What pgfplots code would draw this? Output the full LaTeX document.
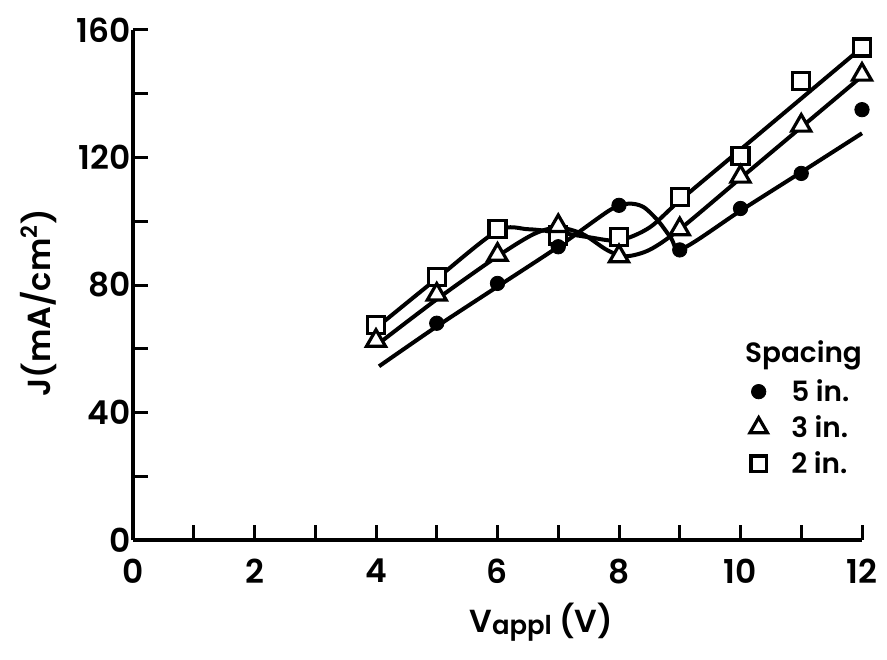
\documentclass[border=0pt]{standalone}
\usepackage{fontspec}
\setmainfont{Poppins}[UprightFont=* SemiBold, BoldFont=* Bold]
\usepackage{pgfplots}
\usepackage{pgfplotstable}
\pgfplotsset{compat=1.18}

\pgfplotstableread{
x y
5 68
6 80.5
7 92
8 105
9 91
10 104
11 115
12 135
}\fivein
\pgfplotstableread{
x y
4 62.5
5 77
6 89.5
7 98.5
8 89
9 97.5
10 114
11 130
12 146
}\threein
\pgfplotstableread{
x y
4 67.5
5 82.5
6 97.5
7 95.5
8 95
9 107.5
10 120.5
11 144
12 154.5
}\twoin

\begin{document}
\begin{tikzpicture}
\path[use as bounding box] (-66.5bp,-60bp) rectangle (377bp,270bp);
\begin{axis}[
  at={(0,0)}, anchor=south west,
  scale only axis, width=364.5bp, height=255bp,
  xmin=0, xmax=12, ymin=0, ymax=160,
  axis x line=bottom, axis y line=left,
  axis line style={-, line width=2bp, black},
  clip=false,
  tick align=inside, major tick length=7.5bp,
  tick style={line width=1.5bp, black},
  xtick={0,1,...,12}, xticklabels={0,,2,,4,,6,,8,,10,,12},
  ytick={0,20,...,160}, yticklabels={0,,40,,80,,120,,160},
  ticklabel style={font=\fontsize{16.5}{17}\selectfont},
  xticklabel style={yshift=-6bp},
  yticklabel style={inner sep=0pt, xshift=-1bp},
  xlabel={V{\fontsize{13}{13}\selectfont\raisebox{-1bp}{appl}}\ (V)},
  ylabel={J(mA/cm\textsuperscript{2})},
  label style={font=\fontsize{16}{17}\selectfont},
  xlabel style={at={(axis description cs:0.560,-0.161)}, anchor=center},
  ylabel style={at={(axis description cs:-0.130,0.465)}, anchor=center},
  legend cell align=left,
  legend style={draw=none, fill=none, font=\fontsize{14}{14}\selectfont,
    at={(axis cs:10.15,49.8)}, anchor=north west, inner sep=0pt,
    row sep=8bp,
    nodes={inner sep=0pt, text height=10bp, text depth=0pt}},
]
% fitted curves
\addplot[smooth, line width=2bp, black, forget plot] coordinates {
 (4.05,54.5) (5,67) (6,79.5) (7,92) (7.85,103.5) (8.15,105.5) (8.4,104.5)
 (8.65,100) (8.85,95) (9.05,91.5) (10,103.3) (11,115.4) (12,127.6)};
\addplot[smooth, line width=2bp, black, forget plot] coordinates {
 (4,61) (5,75.5) (6,89) (6.6,96) (7,98) (7.4,96) (7.8,91) (8.1,89)
 (8.5,91) (9,97.5) (10,113.5) (11,129.5) (12,145.5)};
\addplot[smooth, line width=2bp, black, forget plot] coordinates {
 (4,66.5) (5,82) (6,97) (6.5,97.5) (7,96.5) (7.5,95) (8,94) (8.5,98)
 (9,106.5) (10,122.5) (11,138.5) (12,154.5)};
% data
\addplot[only marks, mark=square*, mark size=4.25bp,
  mark options={fill=white, draw=black, line width=1.6bp}, forget plot] table {\twoin};
\addplot[only marks, mark=triangle*, mark size=5.5bp,
  mark options={fill=white, draw=black, line width=1.6bp}, forget plot] table {\threein};
\addplot[only marks, mark=*, mark size=3.6bp,
  mark options={fill=black, draw=black}, forget plot] table {\fivein};
\node[anchor=base west, inner sep=0pt, font=\fontsize{14}{14}\selectfont]
  at (axis cs:10.07,55.8) {Spacing};
\addlegendimage{only marks, mark=*, mark size=3.6bp, mark options={fill=black}}
\addlegendentry{\hspace{12bp}5 in.}
\addlegendimage{only marks, mark=triangle*, mark size=5bp, mark options={fill=white, draw=black, line width=1.6bp}}
\addlegendentry{\hspace{12bp}3 in.}
\addlegendimage{only marks, mark=square*, mark size=3.8bp, mark options={fill=white, draw=black, line width=1.6bp}}
\addlegendentry{\hspace{12bp}2 in.}
\end{axis}
\end{tikzpicture}
\end{document}
